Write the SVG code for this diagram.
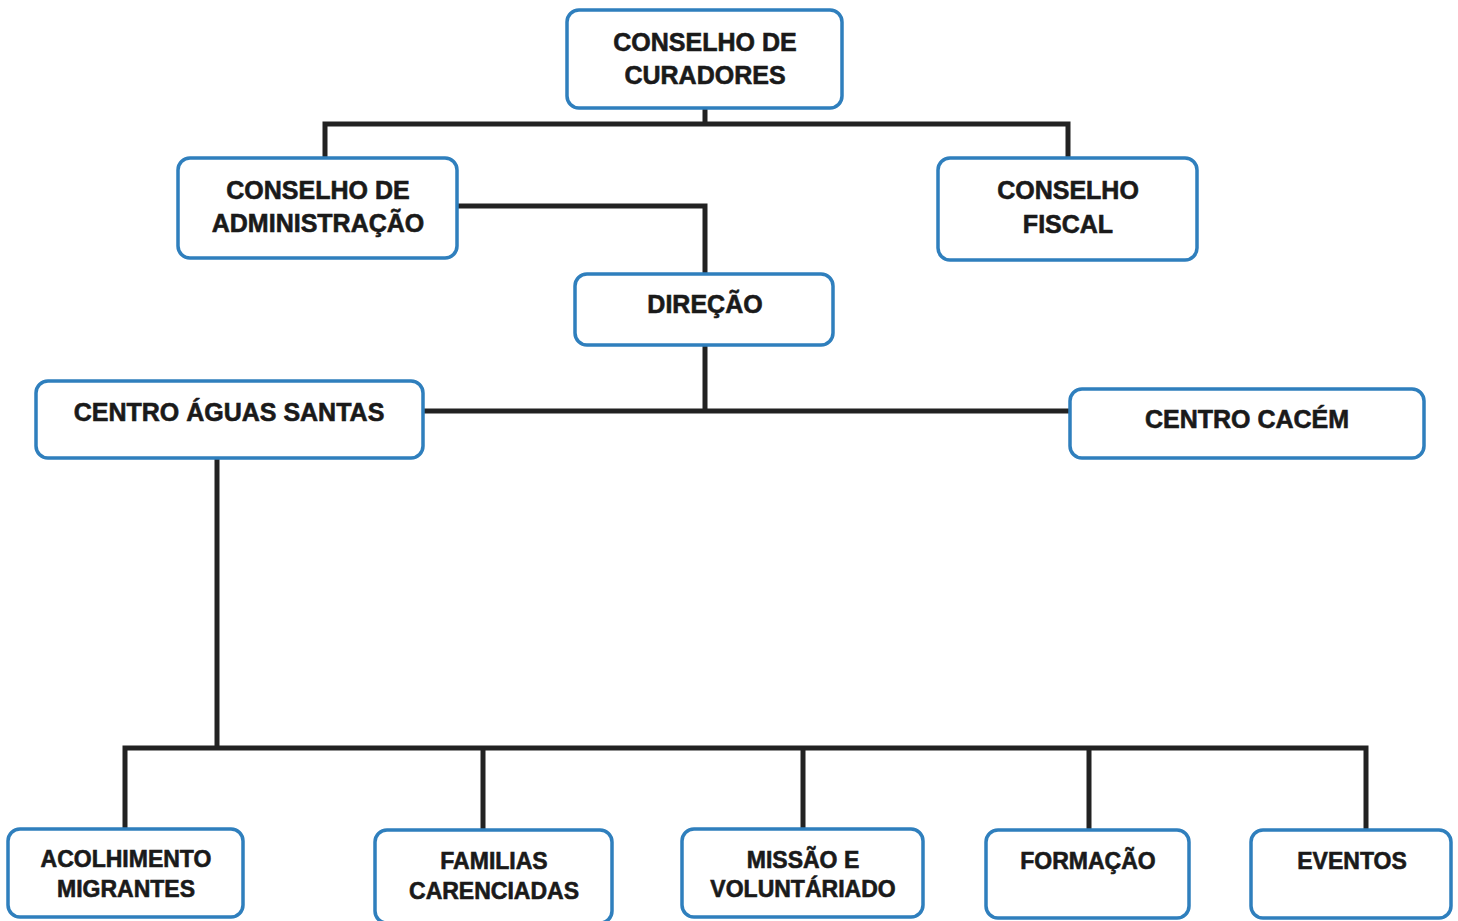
<svg xmlns="http://www.w3.org/2000/svg" width="1458" height="921" viewBox="0 0 1458 921">
<style>
.box{fill:#ffffff;stroke:#2f7fbd;stroke-width:3.5}
.t{font-family:"Liberation Sans",Arial,sans-serif;font-weight:bold;font-size:25px;fill:#1a1a1a;stroke:#1a1a1a;stroke-width:0.6;text-anchor:middle}
.s{font-size:23px}
.c{fill:none;stroke:#222222;stroke-width:5;stroke-linecap:butt;stroke-linejoin:miter}
</style>
<rect width="1458" height="921" fill="#ffffff"/>
<g id="connectors">
<path class="c" d="M705 108V124M325 158V124H1068V158"/>
<path class="c" d="M457 206H705V274"/>
<path class="c" d="M705 345V411M423 411H1070"/>
<path class="c" d="M217 458V748M125 829V748H1366V830M483 748V830M803 748V829M1089 748V830"/>
</g>
<g id="curadores"><rect class="box" x="567" y="10" width="275" height="98" rx="12"/><text class="t" x="705" y="51">CONSELHO DE</text><text class="t" x="705" y="84">CURADORES</text></g>
<g id="administracao"><rect class="box" x="178" y="158" width="279" height="100" rx="12"/><text class="t" x="318" y="199">CONSELHO DE</text><text class="t" x="318" y="232">ADMINISTRAÇÃO</text></g>
<g id="fiscal"><rect class="box" x="938" y="158" width="259" height="102" rx="12"/><text class="t" x="1068" y="199">CONSELHO</text><text class="t" x="1068" y="233">FISCAL</text></g>
<g id="direcao"><rect class="box" x="575" y="274" width="258" height="71" rx="12"/><text class="t" x="705" y="313">DIREÇÃO</text></g>
<g id="aguas-santas"><rect class="box" x="36" y="381" width="387" height="77" rx="12"/><text class="t" x="229" y="421">CENTRO ÁGUAS SANTAS</text></g>
<g id="cacem"><rect class="box" x="1070" y="389" width="354" height="69" rx="12"/><text class="t" x="1247" y="428">CENTRO CACÉM</text></g>
<g id="acolhimento"><rect class="box" x="8" y="829" width="235" height="88" rx="12"/><text class="t s" x="126" y="867">ACOLHIMENTO</text><text class="t s" x="126" y="897">MIGRANTES</text></g>
<g id="familias"><rect class="box" x="375" y="830" width="237" height="93" rx="12"/><text class="t s" x="494" y="869">FAMILIAS</text><text class="t s" x="494" y="899">CARENCIADAS</text></g>
<g id="missao"><rect class="box" x="682" y="829" width="241" height="88" rx="12"/><text class="t s" x="803" y="868">MISSÃO E</text><text class="t s" x="803" y="897">VOLUNTÁRIADO</text></g>
<g id="formacao"><rect class="box" x="986" y="830" width="203" height="88" rx="12"/><text class="t s" x="1088" y="869">FORMAÇÃO</text></g>
<g id="eventos"><rect class="box" x="1251" y="830" width="200" height="88" rx="12"/><text class="t s" x="1352" y="869">EVENTOS</text></g>
</svg>
